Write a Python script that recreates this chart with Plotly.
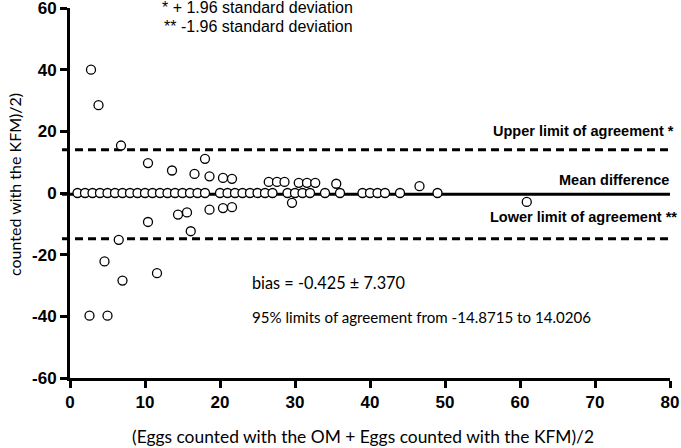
import plotly.graph_objects as go

# Zero-difference points (mean of counts, difference = 0)
zero_x = [1, 2, 3, 4, 5, 6, 7, 8, 9, 10, 11, 12, 13, 14, 15, 16, 17, 18,
          20, 21, 22, 23, 24, 25, 26, 27, 29, 30, 31, 32, 34, 36,
          39, 40, 41, 42, 44, 49]
zero_y = [0] * len(zero_x)

# Non-zero difference points
nz_x = [2.8, 3.8, 6.8, 10.4, 13.6, 16.6, 18.0, 18.6, 20.4, 21.6, 26.5, 27.6, 28.6,
        30.5, 31.6, 32.7, 35.5, 46.6,
        10.4, 14.4, 15.6, 16.1, 18.6, 20.4, 21.6, 29.6, 60.9,
        6.5, 4.6, 11.6, 7.0, 2.6, 5.0]
nz_y = [40, 28.5, 15.4, 9.7, 7.3, 6.2, 11.1, 5.4, 4.9, 4.6, 3.6, 3.6, 3.6,
        3.3, 3.3, 3.3, 3.0, 2.2,
        -9.4, -7.0, -6.3, -12.4, -5.4, -4.9, -4.6, -3.2, -2.9,
        -15.2, -22.2, -26.0, -28.4, -39.8, -39.8]

bias = -0.425
upper = 14.0206
lower = -14.8715

x_ticks = [0, 10, 20, 30, 40, 50, 60, 70, 80]
y_ticks = [-60, -40, -20, 0, 20, 40, 60]

ARIAL = "Liberation Sans, Arial, sans-serif"
CAL = "Lato, Carlito, Calibri, sans-serif"

# plot area in pixels: left 70, right 670, top 8, bottom 378
def px(xp):
    return (xp - 70) / 600

def py(yp):
    return (378 - yp) / 370

fig = go.Figure()
fig.add_trace(go.Scatter(
    x=zero_x + nz_x, y=zero_y + nz_y, mode="markers",
    marker=dict(symbol="circle", size=9, color="white",
                line=dict(color="black", width=1.3)),
    cliponaxis=False, showlegend=False, hoverinfo="x+y"))

shapes = []
for val, dash in [(bias, "solid"), (upper, "8px,5px"), (lower, "8px,5px")]:
    shapes.append(dict(type="line", xref="paper", yref="y", x0=-0.0133, x1=1,
                       y0=val, y1=val, layer="below",
                       line=dict(color="black", width=3, dash=dash)))

annotations = [
    dict(text="* + 1.96 standard deviation", xref="paper", yref="paper",
         x=px(160), y=py(7), xanchor="left", yanchor="middle",
         showarrow=False, font=dict(family=ARIAL, size=16, color="black")),
    dict(text="** -1.96 standard deviation", xref="paper", yref="paper",
         x=px(162), y=py(26.5), xanchor="left", yanchor="middle",
         showarrow=False, font=dict(family=ARIAL, size=16, color="black")),
    dict(text="Upper limit of agreement *", xref="paper", yref="paper",
         x=px(676), y=py(131), xanchor="right", yanchor="middle",
         showarrow=False, font=dict(family=ARIAL, size=14.5, color="black", weight="bold")),
    dict(text="Mean difference", xref="paper", yref="paper",
         x=px(671), y=py(180), xanchor="right", yanchor="middle",
         showarrow=False, font=dict(family=ARIAL, size=14.5, color="black", weight="bold")),
    dict(text="Lower limit of agreement **", xref="paper", yref="paper",
         x=px(679), y=py(217), xanchor="right", yanchor="middle",
         showarrow=False, font=dict(family=ARIAL, size=14.5, color="black", weight="bold")),
    dict(text="bias = -0.425 ± 7.370", xref="paper", yref="paper",
         x=px(250), y=py(282), xanchor="left", yanchor="middle",
         showarrow=False, font=dict(family=CAL, size=16.3, color="black")),
    dict(text="95% limits of agreement from -14.8715 to 14.0206", xref="paper", yref="paper",
         x=px(250), y=py(317), xanchor="left", yanchor="middle",
         showarrow=False, font=dict(family=CAL, size=15.1, color="black")),
    dict(text="(Eggs counted with the OM + Eggs counted with the KFM)/2", xref="paper", yref="paper",
         x=px(363), y=py(436), xanchor="center", yanchor="middle",
         showarrow=False, font=dict(family=CAL, size=17.4, color="black")),
    dict(text="counted with the KFM)/2)", xref="paper", yref="paper",
         x=px(14), y=py(185), xanchor="center", yanchor="middle",
         textangle=-90, showarrow=False, font=dict(family=CAL, size=16, color="black")),
]

fig.update_layout(
    width=681, height=448,
    margin=dict(l=70, r=11, t=8, b=70, autoexpand=False),
    paper_bgcolor="white", plot_bgcolor="white",
    shapes=shapes, annotations=annotations,
    xaxis=dict(range=[0, 80], tickvals=x_ticks, ticktext=[str(v) for v in x_ticks],
               showline=True, linewidth=3, linecolor="black",
               ticks="outside", ticklen=7, tickwidth=2.5, tickcolor="black",
               showgrid=False, zeroline=False, automargin=False,
               ticklabeloverflow="allow",
               tickfont=dict(family=ARIAL, size=17, color="black", weight="bold")),
    yaxis=dict(range=[-60, 60], tickvals=y_ticks, ticktext=[str(v) for v in y_ticks],
               showline=True, linewidth=3, linecolor="black",
               ticks="outside", ticklen=7, tickwidth=2.5, tickcolor="black",
               showgrid=False, zeroline=False, automargin=False,
               ticklabeloverflow="allow",
               tickfont=dict(family=ARIAL, size=17, color="black", weight="bold")),
)

fig.write_html("out.html", config={"displayModeBar": False},
               post_script="document.body.style.margin='0';document.body.style.overflow='hidden';")
